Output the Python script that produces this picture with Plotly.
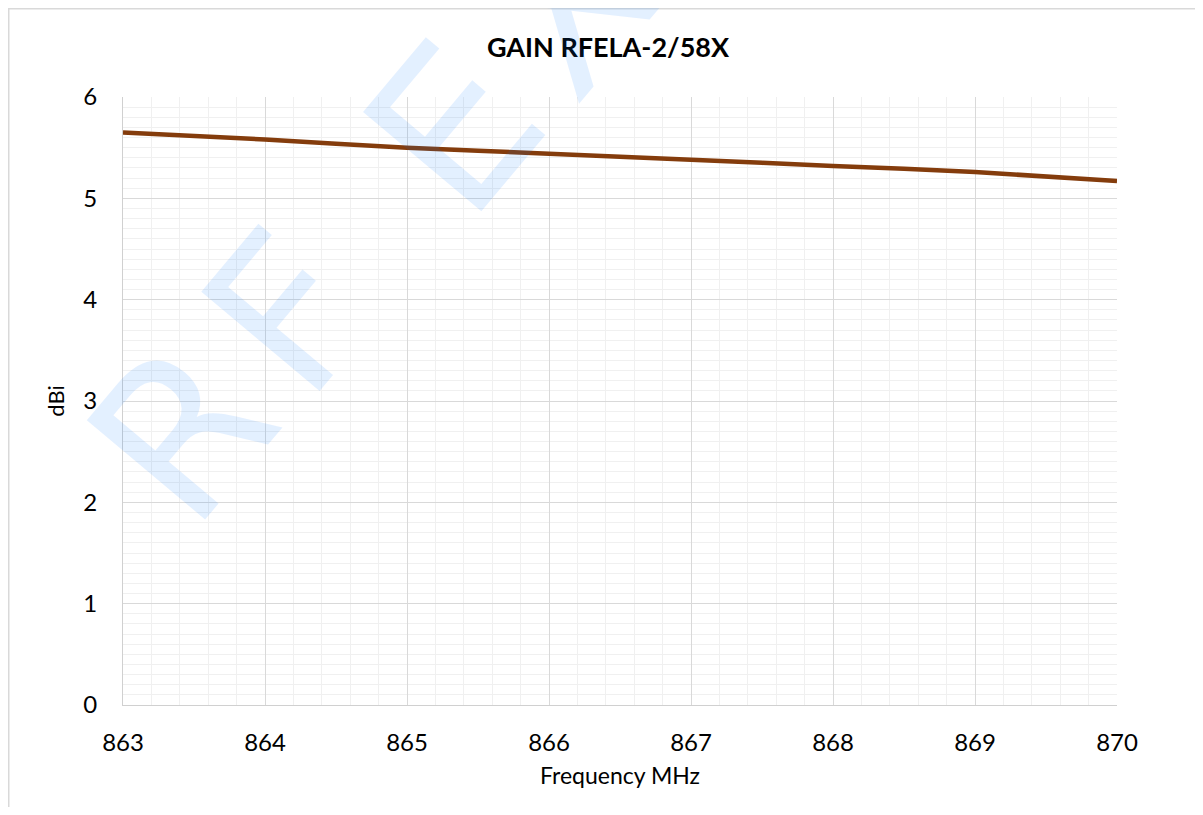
import math
import plotly.graph_objects as go

freq_mhz = [863, 864, 865, 866, 867, 868, 869, 870]
gain_dbi = [5.65, 5.58, 5.50, 5.44, 5.38, 5.32, 5.26, 5.17]
x_ticks = [863, 864, 865, 866, 867, 868, 869, 870]
y_ticks = [0, 1, 2, 3, 4, 5, 6]
watermark_text = "RF EXPERTS"

# page body has an 8px margin; work in reference pixel coords and shift by 8
OFF = 8
W, H = 1203 - 2 * OFF, 815 - 2 * OFF
L = 123 - OFF
T = 97 - OFF
R = W - (1117 - OFF)
B = H - (705 - OFF)
pw, ph = W - L - R, H - T - B

def px_x(p):
    return (p - OFF - L) / pw

def px_y(p):
    return (H - B - (p - OFF)) / ph

fig = go.Figure()
fig.add_trace(go.Scatter(
    x=freq_mhz, y=gain_dbi, mode="lines",
    line=dict(color="#843C0C", width=4.5, shape="spline", smoothing=0.5),
    showlegend=False, hoverinfo="x+y",
))

font_family = "Lato, 'Open Sans', sans-serif"
fig.update_layout(
    width=W, height=H,
    margin=dict(l=L, r=R, t=T, b=B),
    paper_bgcolor="white", plot_bgcolor="white",
    font=dict(family=font_family, color="#000000"),
    title=dict(text="<b>GAIN RFELA-2/58X</b>", x=((487 + 729) / 2 - OFF) / W, xanchor="center",
               y=1 - (48 - OFF) / H, yanchor="middle",
               font=dict(size=27, family=font_family, color="#000000")),
    xaxis=dict(
        range=[863, 870], tickvals=x_ticks, ticktext=[str(v) for v in x_ticks],
        showgrid=True, gridcolor="#d9d9d9", gridwidth=1.3,
        minor=dict(dtick=0.2, showgrid=True, gridcolor="#f0f0f0", gridwidth=1.3),
        showline=True, linecolor="#d0d0d0", linewidth=1.3,
        zeroline=False, ticks="", ticklabelstandoff=16,
        tickfont=dict(size=24, family=font_family),
        title=dict(text="Frequency MHz", font=dict(size=23, family=font_family), standoff=12),
    ),
    yaxis=dict(
        range=[0, 6], tickvals=y_ticks, ticktext=[str(v) for v in y_ticks],
        showgrid=True, gridcolor="#d9d9d9", gridwidth=1.3,
        minor=dict(dtick=0.1, showgrid=True, gridcolor="#f0f0f0", gridwidth=1.3),
        showline=True, linecolor="#d0d0d0", linewidth=1.3,
        zeroline=False, ticks="", ticklabelstandoff=20,
        tickfont=dict(size=24, family=font_family),
        title=dict(text="dBi", font=dict(size=22, family=font_family), standoff=12),
    ),
)

# outer chart border (left/top edges visible, right/bottom run off the page)
fig.add_shape(type="rect", xref="paper", yref="paper",
              x0=px_x(OFF + 0.75), x1=px_x(1230), y0=px_y(840), y1=px_y(OFF + 0.75),
              line=dict(color="#d9d9d9", width=1.5), fillcolor="rgba(0,0,0,0)", layer="below")

# watermark, letter-spaced along a rising diagonal
wm_size = 212
wm_track = 26
adv_em = {"R": 0.695, "F": 0.575, " ": 0.318, "E": 0.632, "X": 0.685,
          "P": 0.603, "T": 0.611, "S": 0.635}
ang = math.radians(48)
dx, dy = math.cos(ang), -math.sin(ang)
sx, sy = 182, 432
pos = 0.0
prev_half = None
for ch in watermark_text:
    w = adv_em[ch] * wm_size
    if prev_half is not None:
        pos += prev_half + w / 2 + wm_track
    prev_half = w / 2
    if ch == " ":
        continue
    cx, cy = sx + pos * dx, sy + pos * dy
    fig.add_annotation(text=ch, xref="paper", yref="paper",
                       x=px_x(cx), y=px_y(cy), xanchor="center", yanchor="middle",
                       textangle=-50, showarrow=False,
                       font=dict(size=wm_size, family="'DejaVu Sans', sans-serif",
                                 color="rgba(0,120,255,0.11)"))

fig.write_html("out.html")
